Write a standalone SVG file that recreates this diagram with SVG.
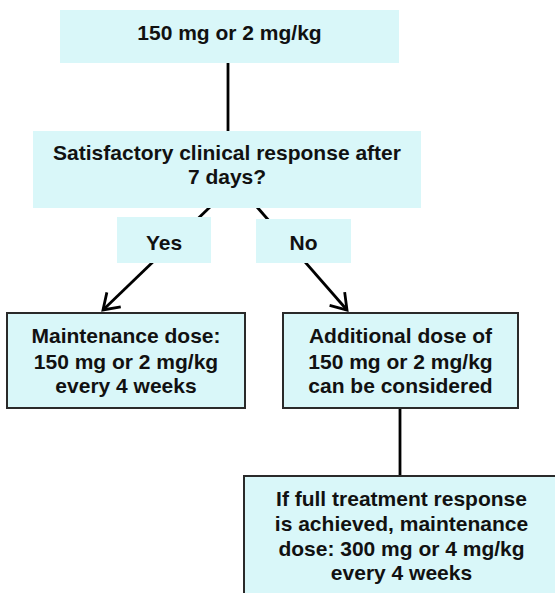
<svg xmlns="http://www.w3.org/2000/svg" width="555" height="593" viewBox="0 0 555 593">
  <style>
    .box { fill: #d9f7f9; }
    .bbox { fill: #d9f7f9; stroke: #2a2a2a; stroke-width: 2; }
    .t { font-family: "Liberation Sans", Arial, sans-serif; font-weight: bold; font-size: 21px; fill: #111; text-anchor: middle; }
    .c { stroke: #000; stroke-width: 2.8; fill: none; }
  </style>
  <defs>
    <marker id="arr" markerUnits="userSpaceOnUse" markerWidth="30" markerHeight="30" refX="0" refY="0" viewBox="-20 -15 25 30" orient="auto" overflow="visible">
      <path d="M -15,-10 L 0,0 L -15,10" fill="none" stroke="#000" stroke-width="2.8" stroke-linejoin="miter"/>
    </marker>
  </defs>
  <rect x="0" y="0" width="555" height="593" fill="#fff"/>
  <g id="connectors">
    <line class="c" x1="228" y1="63" x2="228" y2="131"/>
    <line class="c" x1="210" y1="207" x2="103" y2="310" marker-end="url(#arr)"/>
    <line class="c" x1="257" y1="207" x2="347" y2="310" marker-end="url(#arr)"/>
    <line class="c" x1="400" y1="408" x2="400" y2="476"/>
  </g>
  <g id="start">
    <rect class="box" x="60" y="10" width="339" height="53"/>
    <text class="t" x="229.5" y="39.5">150 mg or 2 mg/kg</text>
  </g>
  <g id="question">
    <rect class="box" x="33" y="131" width="388" height="77"/>
    <text class="t" x="227" y="160">Satisfactory clinical response after</text>
    <text class="t" x="227" y="184">7 days?</text>
  </g>
  <g id="yes">
    <rect class="box" x="117" y="217" width="94" height="46"/>
    <text class="t" x="164" y="250">Yes</text>
  </g>
  <g id="no">
    <rect class="box" x="256" y="219" width="95" height="44"/>
    <text class="t" x="303.5" y="250">No</text>
  </g>
  <g id="maintenance">
    <rect class="bbox" x="7" y="313" width="238" height="95"/>
    <text class="t" x="126" y="343">Maintenance dose:</text>
    <text class="t" x="126" y="369">150 mg or 2 mg/kg</text>
    <text class="t" x="126" y="393">every 4 weeks</text>
  </g>
  <g id="additional">
    <rect class="bbox" x="283" y="313" width="235" height="95"/>
    <text class="t" x="400.5" y="343">Additional dose of</text>
    <text class="t" x="400.5" y="369">150 mg or 2 mg/kg</text>
    <text class="t" x="400.5" y="393">can be considered</text>
  </g>
  <g id="full-response">
    <rect class="bbox" x="244" y="476" width="340" height="140"/>
    <text class="t" x="401.5" y="506">If full treatment response</text>
    <text class="t" x="401.5" y="531">is achieved, maintenance</text>
    <text class="t" x="401.5" y="556">dose: 300 mg or 4 mg/kg</text>
    <text class="t" x="401.5" y="580">every 4 weeks</text>
  </g>
</svg>
